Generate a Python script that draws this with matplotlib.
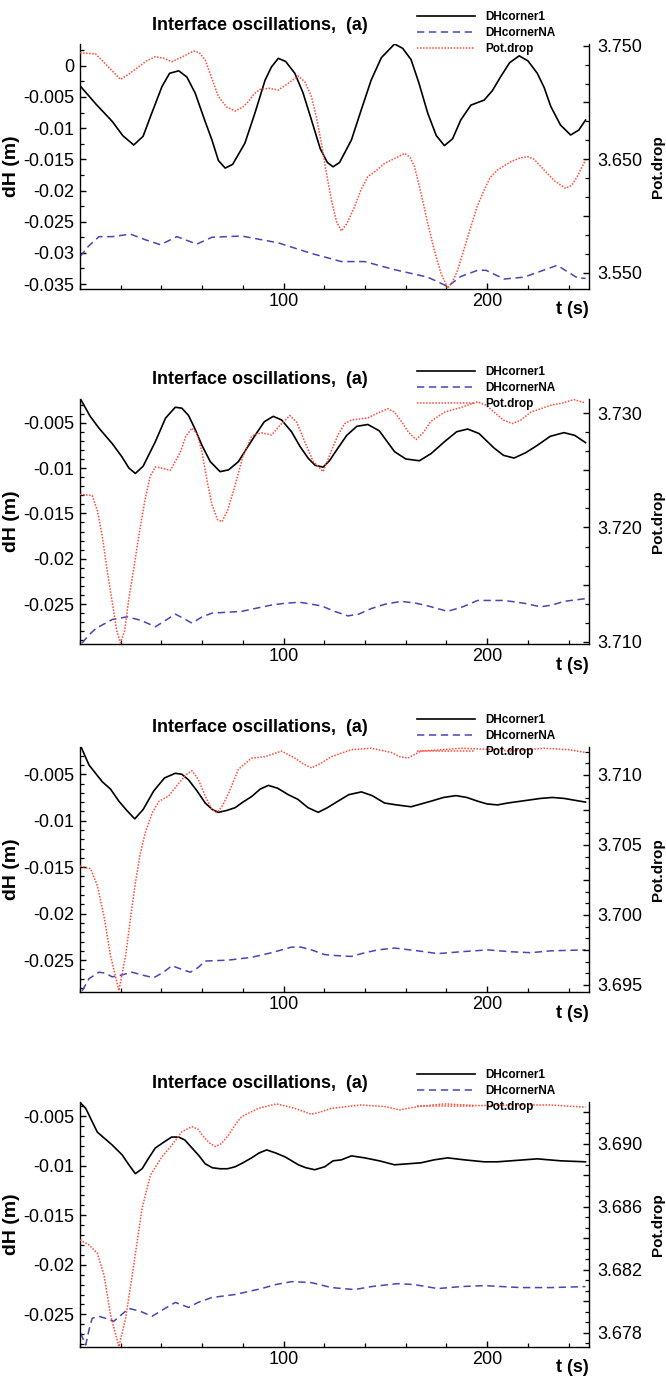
import matplotlib
matplotlib.use("Agg")
import matplotlib.pyplot as plt
from matplotlib.ticker import MultipleLocator, FixedLocator, FuncFormatter

plt.rcParams['font.family'] = ['Liberation Sans', 'DejaVu Sans']

# ---------------- data ----------------
# panel 1
p1_t_c1 = [0, 8, 15.8, 21, 26.4, 31, 35, 40.3, 44, 48.5, 52.5, 56.6, 61, 64.8, 68, 71.3, 75, 81, 86, 90.9,
           94, 97.4, 101, 105.5, 109.5, 113.7, 118, 121.5, 124.3, 127.5, 133.3, 138, 143, 148, 154.5, 158.5,
           162.6, 166.5, 170.8, 175, 179, 183, 187, 192, 198.5, 202.5, 206.7, 211, 215.7, 220, 224.6, 228,
           231.2, 236, 241, 245, 248.3]
p1_c1 = [-0.0032, -0.0062, -0.0089, -0.0112, -0.0127, -0.0113, -0.0078, -0.0033, -0.0012, -0.0008, -0.0018,
         -0.0044, -0.0085, -0.0119, -0.0152, -0.0164, -0.0158, -0.0124, -0.0075, -0.0023, -0.0002, 0.0012,
         0.0007, -0.0012, -0.0043, -0.0087, -0.0133, -0.0155, -0.0162, -0.0155, -0.0119, -0.0072, -0.0023,
         0.0013, 0.0035, 0.0028, 0.0010, -0.0028, -0.0076, -0.0112, -0.0128, -0.0117, -0.0087, -0.0063,
         -0.0055, -0.0040, -0.0017, 0.0005, 0.0016, 0.0008, -0.0012, -0.0035, -0.0065, -0.0095, -0.0111,
         -0.0103, -0.0087]
p1_t_na = [0, 4, 9.3, 15.8, 24.8, 32.1, 39.5, 47.6, 57.4, 64.8, 79.4, 97.4, 113.7, 128.4, 139.8, 154.5, 170.8,
           180.6, 187, 195.3, 199.4, 208.3, 218.1, 234.4, 244.2, 248.3]
p1_na = [-0.0306, -0.0290, -0.0274, -0.0274, -0.0270, -0.0279, -0.0287, -0.0274, -0.0286, -0.0275, -0.0273,
         -0.0284, -0.0301, -0.0314, -0.0314, -0.0327, -0.0339, -0.0354, -0.0338, -0.0328, -0.0328, -0.0342,
         -0.0339, -0.0320, -0.0340, -0.0341]
p1_t_pd = [0, 7.7, 13, 19.9, 24, 28.9, 33, 37, 41, 45.2, 50, 55.8, 58.5, 61.5, 65, 68, 72, 76.2, 80, 82.7,
           85.5, 88.4, 93, 97.4, 102, 107.2, 110.5, 113.7, 116, 118.6, 121, 123.5, 126, 128.4, 131, 134.9,
           138, 141.4, 145.5, 149.6, 155, 159.4, 162, 164.3, 167.5, 170.8, 174, 177.3, 180.6, 183, 185.5,
           188.5, 192, 195, 198.5, 201.5, 205.1, 211.6, 216, 219.8, 223, 227.9, 233, 238.5, 241.5, 244.2, 248.3]
p1_pd = [3.7438, 3.7427, 3.7330, 3.7203, 3.7250, 3.7315, 3.7370, 3.7403, 3.7390, 3.7359, 3.7400, 3.7453,
         3.7440, 3.7374, 3.7200, 3.7051, 3.6960, 3.6924, 3.6960, 3.7007, 3.7075, 3.7115, 3.7125, 3.7109,
         3.7165, 3.7233, 3.7180, 3.7051, 3.6880, 3.6640, 3.6380, 3.6140, 3.5950, 3.5867, 3.5930, 3.6081,
         3.6230, 3.6346, 3.6400, 3.6463, 3.6510, 3.6551, 3.6520, 3.6434, 3.6200, 3.5935, 3.5700, 3.5494,
         3.5362, 3.5420, 3.5524, 3.5700, 3.5905, 3.6080, 3.6228, 3.6340, 3.6405, 3.6478, 3.6510, 3.6522,
         3.6500, 3.6405, 3.6310, 3.6243, 3.6270, 3.6346, 3.6493]

# panel 2
p2_t_c1 = [0, 5, 9.3, 15.8, 20.7, 24, 27.2, 31, 37, 42, 46.8, 50, 53.3, 56.5, 59.9, 64, 68.8, 73, 77.8, 82,
           86, 90.5, 94.9, 99, 103.9, 108, 112, 115.5, 119.4, 122.5, 126.7, 131, 136, 141.4, 147, 154.5, 160,
           166.7, 172.5, 179, 185, 190.4, 196, 203.4, 208, 213.2, 219, 224.6, 231, 237.7, 243, 248.3]
p2_c1 = [-0.0023, -0.0043, -0.0056, -0.0073, -0.0088, -0.0100, -0.0106, -0.0098, -0.0071, -0.0045, -0.0033,
         -0.0034, -0.0042, -0.0057, -0.0075, -0.0093, -0.0104, -0.0102, -0.0093, -0.0078, -0.0064, -0.0049,
         -0.0043, -0.0047, -0.0060, -0.0076, -0.0089, -0.0097, -0.0099, -0.0092, -0.0078, -0.0064, -0.0054,
         -0.0052, -0.0059, -0.0082, -0.0090, -0.0092, -0.0084, -0.0071, -0.0060, -0.0057, -0.0062, -0.0078,
         -0.0086, -0.0089, -0.0083, -0.0075, -0.0065, -0.0061, -0.0064, -0.0072]
p2_t_na = [1, 4, 7.7, 15.8, 23.2, 30, 37, 42, 46.8, 51, 55, 60, 64.8, 79.4, 94.1, 101, 108, 118.6, 125,
           131.6, 137, 143, 150, 157.8, 165, 170.8, 180.6, 188, 195.3, 208.3, 218, 226.3, 232, 237.7, 248.3]
p2_na = [-0.0293, -0.0285, -0.0277, -0.0267, -0.0264, -0.0268, -0.0275, -0.0268, -0.0261, -0.0266, -0.0271,
         -0.0264, -0.0260, -0.0258, -0.0251, -0.0249, -0.0248, -0.0252, -0.0258, -0.0263, -0.0261, -0.0255,
         -0.0250, -0.0247, -0.0249, -0.0252, -0.0258, -0.0253, -0.0246, -0.0246, -0.0249, -0.0253, -0.0251,
         -0.0247, -0.0244]
p2_t_pd = [0, 6, 8.5, 10.9, 13.3, 15.8, 18, 19.9, 22, 24, 26.5, 28.9, 32, 34.5, 37, 40, 44.4, 49.3, 52, 55,
           57.5, 59.9, 62.5, 64.8, 67.5, 69.7, 72.5, 76.2, 80, 84.3, 89, 94.1, 98.5, 103.1, 106.5, 110.4,
           114.5, 119.4, 123, 126.7, 130, 133.3, 141.4, 146, 151.2, 154.5, 157.8, 161.5, 165.1, 168.5, 172.4,
           179, 187, 195.3, 199.5, 203.4, 208, 212.4, 216.5, 221.4, 231.2, 237, 242.6, 248.3]
p2_pd = [3.7229, 3.7228, 3.7215, 3.7193, 3.7163, 3.7135, 3.7110, 3.7099, 3.7110, 3.7138, 3.7165, 3.7193,
         3.7225, 3.7245, 3.7253, 3.7252, 3.7250, 3.7266, 3.7280, 3.7287, 3.7282, 3.7266, 3.7240, 3.7220,
         3.7207, 3.7205, 3.7215, 3.7237, 3.7262, 3.7280, 3.7283, 3.7281, 3.7290, 3.7298, 3.7292, 3.7275,
         3.7258, 3.7249, 3.7265, 3.7281, 3.7291, 3.7294, 3.7296, 3.7300, 3.7304, 3.7301, 3.7293, 3.7283,
         3.7277, 3.7283, 3.7293, 3.7301, 3.7305, 3.7310, 3.7307, 3.7301, 3.7294, 3.7291, 3.7294, 3.7301,
         3.7307, 3.7309, 3.7312, 3.7309]

# panel 3
p3_t_c1 = [0, 4.4, 10.9, 15, 19.1, 23, 26.9, 31, 36.2, 41.5, 46.8, 50, 53.3, 57.5, 61.5, 65, 68, 72, 76.2,
           80, 84.3, 88.5, 92.5, 97, 102.3, 107, 112, 117, 121.5, 126.7, 132, 138.2, 143.5, 149.6, 155.5,
           162.6, 167.5, 172.4, 178.5, 184.7, 190, 195.3, 200, 205.1, 210, 216.5, 226.3, 232, 237.7, 243, 248.3]
p3_c1 = [-0.0018, -0.0040, -0.0058, -0.0066, -0.0079, -0.0089, -0.0098, -0.0088, -0.0068, -0.0054, -0.0049,
         -0.0050, -0.0056, -0.0068, -0.0081, -0.0088, -0.0091, -0.0089, -0.0086, -0.0080, -0.0074, -0.0066,
         -0.0062, -0.0065, -0.0072, -0.0077, -0.0086, -0.0091, -0.0086, -0.0079, -0.0072, -0.0069, -0.0073,
         -0.0081, -0.0083, -0.0085, -0.0082, -0.0079, -0.0075, -0.0073, -0.0075, -0.0079, -0.0082, -0.0083,
         -0.0081, -0.0079, -0.0076, -0.0075, -0.0076, -0.0078, -0.0080]
p3_t_na = [1.1, 4.4, 9.3, 12.5, 15.8, 20.5, 25.6, 30.5, 36.2, 41, 45.2, 50, 54.2, 58, 61.5, 72.9, 84.3, 94.1,
           103.9, 108.5, 113.7, 120, 125.1, 133.3, 140, 146.3, 154.5, 165.9, 175.7, 187.1, 200.2, 211.6,
           221.4, 231.2, 248.3]
p3_na = [-0.0283, -0.0270, -0.0263, -0.0264, -0.0268, -0.0266, -0.0263, -0.0266, -0.0269, -0.0263, -0.0256,
         -0.0260, -0.0263, -0.0258, -0.0251, -0.0250, -0.0247, -0.0242, -0.0236, -0.0236, -0.0239, -0.0244,
         -0.0245, -0.0246, -0.0242, -0.0239, -0.0237, -0.0240, -0.0243, -0.0241, -0.0239, -0.0241, -0.0242,
         -0.0240, -0.0239]
p3_t_pd = [0, 5.2, 8.5, 11.8, 15, 19.1, 22.4, 25, 27.2, 29.5, 32.1, 35.5, 38.7, 43.6, 48.5, 52, 55, 58, 61.5,
           64.5, 67.2, 70, 73, 77.8, 84.3, 90.9, 99, 105.5, 109.5, 113.7, 118, 123.5, 133.3, 143.1, 152.9,
           157, 161, 167.5, 178, 187.1, 205.1, 211.6, 227.9, 240, 248.3]
p3_pd = [3.7035, 3.7033, 3.7021, 3.6999, 3.6971, 3.6946, 3.6971, 3.7000, 3.7023, 3.7043, 3.7059, 3.7073,
         3.7081, 3.7085, 3.7094, 3.7100, 3.7103, 3.7097, 3.7085, 3.7076, 3.7073, 3.7078, 3.7087, 3.7104,
         3.7112, 3.7113, 3.7117, 3.7112, 3.7108, 3.7105, 3.7108, 3.7113, 3.7118, 3.7119, 3.7116, 3.7113,
         3.7112, 3.7117, 3.7118, 3.7119, 3.7118, 3.7117, 3.7119, 3.7118, 3.7116]

# panel 4
p4_t_c1 = [0, 2.8, 8.5, 15.8, 20.7, 24, 27.2, 30.5, 33.5, 37, 42, 45, 48.5, 51.5, 55, 58.5, 61.5, 65, 68.8,
           72.5, 76.2, 80, 84.3, 88, 91.7, 96, 100.7, 104, 107.2, 111, 115.3, 120.2, 124.3, 128.4, 133.3,
           139.8, 147, 154.5, 161, 167.5, 174, 180.6, 188.7, 198.5, 205, 211.6, 224.6, 236.1, 248.3]
p4_c1 = [-0.0036, -0.0042, -0.0066, -0.0079, -0.0089, -0.0099, -0.0108, -0.0103, -0.0093, -0.0082, -0.0075,
         -0.0071, -0.0071, -0.0074, -0.0082, -0.0090, -0.0098, -0.0102, -0.0103, -0.0103, -0.0101, -0.0097,
         -0.0092, -0.0087, -0.0084, -0.0087, -0.0091, -0.0095, -0.0099, -0.0102, -0.0104, -0.0101, -0.0095,
         -0.0094, -0.0090, -0.0092, -0.0095, -0.0099, -0.0098, -0.0097, -0.0094, -0.0092, -0.0094, -0.0096,
         -0.0096, -0.0095, -0.0093, -0.0095, -0.0096]
p4_t_na = [0.3, 2.8, 4.5, 6, 9.3, 12.6, 16.6, 20, 24, 29.7, 35.4, 41, 46.8, 53.3, 58, 64.8, 76.2, 89.2, 96,
           103.9, 113.7, 123.5, 134.9, 143.1, 156.1, 164.3, 175.7, 187.1, 198.5, 216.5, 231.2, 248.3]
p4_na = [-0.0269, -0.0281, -0.0265, -0.0254, -0.0252, -0.0254, -0.0257, -0.0251, -0.0244, -0.0247, -0.0252,
         -0.0245, -0.0238, -0.0243, -0.0238, -0.0233, -0.0230, -0.0224, -0.0220, -0.0217, -0.0218, -0.0223,
         -0.0225, -0.0222, -0.0219, -0.0220, -0.0224, -0.0222, -0.0221, -0.0223, -0.0223, -0.0222]
p4_t_pd = [0, 4.4, 8.5, 11.8, 15, 19.1, 22.4, 26.4, 30.5, 34.6, 40.3, 45.2, 50.1, 55, 58, 60.7, 63.5, 66.4,
           69.5, 73, 76.5, 79.4, 87.6, 96.6, 105.5, 113.7, 118, 123.5, 138.2, 149.6, 156.9, 165.9, 179, 195.3,
           211.6, 231.2, 248.3]
p4_pd = [3.68388, 3.68357, 3.68304, 3.68166, 3.67912, 3.67711, 3.67891, 3.68230, 3.68590, 3.68801, 3.68917,
         3.68992, 3.69076, 3.69108, 3.69090, 3.69044, 3.69005, 3.68981, 3.69000, 3.69055, 3.69125, 3.69171,
         3.69224, 3.69252, 3.69224, 3.69186, 3.69200, 3.69224, 3.69245, 3.69235, 3.69214, 3.69235, 3.69252,
         3.69241, 3.69245, 3.69245, 3.69231]

series_names = ['DHcorner1', 'DHcornerNA', 'Pot.drop']
title_text = 'Interface oscillations,  (a)'

# axis ranges and tick values
x_range = (0, 250)
x_ticks = [100, 200]
left_ranges = [(-0.0358, 0.0035), (-0.0294, -0.00239), (-0.02843, -0.00207), (-0.0283, -0.00356)]
right_ranges = [(3.5356, 3.7515), (3.7098, 3.73125), (3.6945, 3.71199), (3.67709, 3.69264)]
left_ticks = [[0, -0.005, -0.01, -0.015, -0.02, -0.025, -0.03, -0.035],
              [-0.005, -0.01, -0.015, -0.02, -0.025],
              [-0.005, -0.01, -0.015, -0.02, -0.025],
              [-0.005, -0.01, -0.015, -0.02, -0.025]]
left_minor = [0.0025, 0.001, 0.001, 0.001]
right_major = [[3.55, 3.60, 3.65, 3.70, 3.75],
               [3.710, 3.715, 3.720, 3.725, 3.730],
               [3.695, 3.6975, 3.700, 3.7025, 3.705, 3.7075, 3.710],
               [3.678, 3.680, 3.682, 3.684, 3.686, 3.688, 3.690, 3.692]]
right_labels = [[3.550, 3.650, 3.750],
                [3.710, 3.720, 3.730],
                [3.695, 3.700, 3.705, 3.710],
                [3.678, 3.682, 3.686, 3.690]]
right_minor = [0.1 / 6, 0.01 / 6, 0.005 / 6, 0.004 / 6]

panels = [
    (p1_t_c1, p1_c1, p1_t_na, p1_na, p1_t_pd, p1_pd),
    (p2_t_c1, p2_c1, p2_t_na, p2_na, p2_t_pd, p2_pd),
    (p3_t_c1, p3_c1, p3_t_na, p3_na, p3_t_pd, p3_pd),
    (p4_t_c1, p4_c1, p4_t_na, p4_na, p4_t_pd, p4_pd),
]

# ---------------- layout (pixels) ----------------
W, H = 666, 1378
ax_left, ax_w, ax_h = 80, 509, 245
panel_tops = [44, 399, 747, 1102]


def fx(px):
    return px / W


def fy(py):
    return 1 - py / H


def right_fmt(labels):
    def f(v, pos):
        for l in labels:
            if abs(v - l) < 1e-7:
                return '%.3f' % v
        return ''
    return FuncFormatter(f)


fig = plt.figure(figsize=(W / 100, H / 100), dpi=100)

for i, (t1, c1, t2, na, t3, pd) in enumerate(panels):
    top = panel_tops[i]
    ax = fig.add_axes([fx(ax_left), fy(top + ax_h), ax_w / W, ax_h / H])
    ax2 = ax.twinx()

    l1, = ax.plot(t1, c1, color='black', lw=1.2)
    l2, = ax.plot(t2, na, color='#4646b4', lw=1.1, ls=(0, (4.8, 3)))
    l3, = ax2.plot(t3, pd, color='#ff4a35', lw=1.1, ls=(0, (1, 1)))

    ax.set_xlim(*x_range)
    ax.set_ylim(*left_ranges[i])
    ax2.set_ylim(*right_ranges[i])

    for sp in ['top', 'right']:
        ax.spines[sp].set_visible(False)
    for sp in ['top', 'left', 'bottom']:
        ax2.spines[sp].set_visible(False)
    for sp in ax.spines.values():
        sp.set_linewidth(1.0)
    ax2.spines['right'].set_linewidth(1.0)

    ax.xaxis.set_major_locator(FixedLocator(x_ticks))
    ax.xaxis.set_minor_locator(MultipleLocator(20))
    ax.yaxis.set_major_locator(FixedLocator(left_ticks[i]))
    ax.yaxis.set_minor_locator(MultipleLocator(left_minor[i]))
    ax.yaxis.set_major_formatter(FuncFormatter(lambda v, pos: '%g' % round(v, 6)))
    ax2.yaxis.set_major_locator(FixedLocator(right_major[i]))
    ax2.yaxis.set_minor_locator(MultipleLocator(right_minor[i]))
    ax2.yaxis.set_major_formatter(right_fmt(right_labels[i]))

    ax.tick_params(axis='both', which='major', direction='in', length=4.5, width=1.0, labelsize=13)
    ax.tick_params(axis='both', which='minor', direction='in', length=2.6, width=0.9)
    ax.tick_params(axis='y', pad=4.3)
    ax.tick_params(axis='x', pad=3)
    ax2.tick_params(axis='y', which='major', direction='in', length=4.5, width=1.0, labelsize=13, pad=5.8)
    ax2.tick_params(axis='y', which='minor', direction='in', length=2.6, width=0.9)

    fig.text(fx(260), fy(top - 19), title_text, ha='center', va='center', fontsize=13, fontweight='bold')
    fig.text(fx(589), fy(top + ax_h + 21), 't (s)', ha='right', va='center', fontsize=13, fontweight='bold')
    fig.text(fx(12), fy(top + ax_h / 2), 'dH (m)', rotation=90, ha='center', va='center',
             fontsize=14, fontweight='bold')
    fig.text(fx(658), fy(top + ax_h / 2), 'Pot.drop', rotation=90, ha='center', va='center',
             fontsize=11, fontweight='bold')

    ax2.legend([l1, l2, l3], series_names, loc='upper left',
               bbox_to_anchor=(fx(417), fy(top - 33)), bbox_transform=fig.transFigure,
               frameon=False, prop={'weight': 'bold', 'size': 8.5},
               handlelength=4.9, handletextpad=0.85, labelspacing=0.33,
               borderpad=0, borderaxespad=0)

fig.savefig('out.png', dpi=100)
